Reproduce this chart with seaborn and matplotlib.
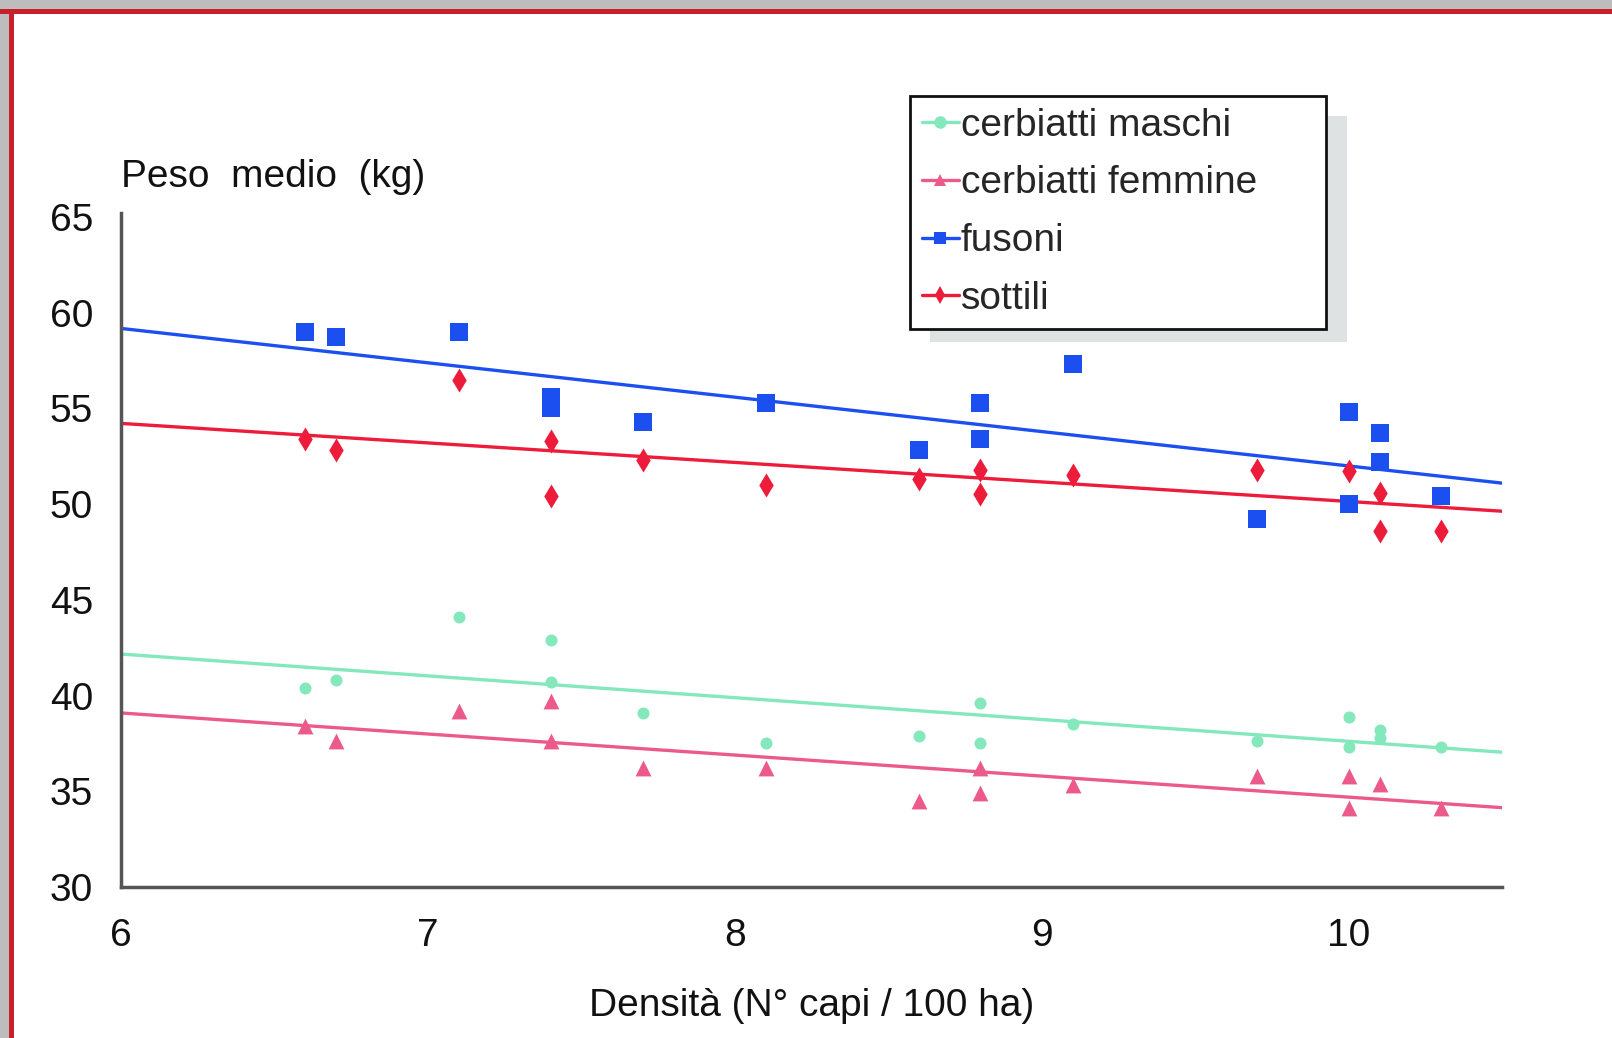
import matplotlib.pyplot as plt
import seaborn as sns
import numpy as np
from matplotlib.lines import Line2D
from matplotlib.patches import Rectangle

# Dati
densita_fusoni = [6.6, 6.7, 7.1, 7.4, 7.4, 7.7, 8.1, 8.6, 8.8, 8.8, 9.1, 9.7, 10.0, 10.0, 10.1, 10.1, 10.3]
peso_fusoni = [59.0, 58.7, 59.0, 55.6, 55.0, 54.3, 55.3, 52.8, 55.3, 53.4, 57.3, 49.2, 54.8, 50.0, 53.7, 52.2, 50.4]

densita_sottili = [6.6, 6.7, 7.1, 7.4, 7.4, 7.7, 8.1, 8.6, 8.8, 8.8, 9.1, 9.7, 10.0, 10.1, 10.1, 10.3]
peso_sottili = [53.4, 52.8, 56.5, 53.3, 50.4, 52.3, 51.0, 51.3, 51.8, 50.5, 51.5, 51.8, 51.7, 50.6, 48.6, 48.6]

densita_maschi = [6.6, 6.7, 7.1, 7.4, 7.4, 7.7, 8.1, 8.6, 8.8, 8.8, 9.1, 9.7, 10.0, 10.0, 10.1, 10.1, 10.3]
peso_maschi = [40.4, 40.8, 44.1, 42.9, 40.7, 39.1, 37.5, 37.9, 39.6, 37.5, 38.5, 37.6, 38.9, 37.3, 38.2, 37.8, 37.3]

densita_femmine = [6.6, 6.7, 7.1, 7.4, 7.4, 7.7, 8.1, 8.6, 8.8, 8.8, 9.1, 9.7, 10.0, 10.0, 10.1, 10.3]
peso_femmine = [38.4, 37.6, 39.2, 39.7, 37.6, 36.2, 36.2, 34.5, 36.2, 34.9, 35.3, 35.8, 35.8, 34.1, 35.4, 34.1]

x_ticks = [6, 7, 8, 9, 10]
y_ticks = [30, 35, 40, 45, 50, 55, 60, 65]

serie = [
    ("cerbiatti maschi", densita_maschi, peso_maschi, "#84e8bc", "o", 75),
    ("cerbiatti femmine", densita_femmine, peso_femmine, "#ec5a8c", "^", 130),
    ("fusoni", densita_fusoni, peso_fusoni, "#1c4ff0", "s", 150),
    ("sottili", densita_sottili, peso_sottili, "#ec1c3a", "d", 150),
]

sns.set_style("white")
plt.rcParams['font.family'] = ['Liberation Sans', 'DejaVu Sans']

fig = plt.figure(figsize=(16.12, 10.38), dpi=100)
ax = fig.add_axes([0.075, 0.1455, 0.857, 0.6493])
ax.set_xlim(6, 10.5)
ax.set_ylim(30, 65.2)

for nome, xs, ys, col, mk, sz in serie:
    sns.regplot(x=np.array(xs), y=np.array(ys), ax=ax, ci=None, truncate=False,
                marker=mk, color=col,
                scatter_kws=dict(s=sz, linewidths=0, alpha=1, zorder=3),
                line_kws=dict(lw=2.4, zorder=2))

ax.set_xticks(x_ticks)
ax.set_yticks(y_ticks)
ax.tick_params(axis='both', labelsize=28, length=0, colors='#111111')
ax.tick_params(axis='y', pad=20)
ax.tick_params(axis='x', pad=22)
for s in ['top', 'right']:
    ax.spines[s].set_visible(False)
for s in ['left', 'bottom']:
    ax.spines[s].set_color('#555555')
    ax.spines[s].set_linewidth(2.5)
ax.set_xlabel("Densità (N° capi / 100 ha)", fontsize=28, labelpad=25, color='#111111')
ax.set_ylabel("")

fig.text(121 / 1612, 1 - 177 / 1038, "Peso  medio  (kg)", fontsize=28,
         ha='left', va='center', color='#111111')

# legenda con ombra
handles = [Line2D([0], [0], color=col, marker=mk, markersize=9, lw=2.4, markeredgewidth=0)
           for nome, xs, ys, col, mk, sz in serie]
labels = [s[0] for s in serie]
fig.patches.append(Rectangle((930 / 1612, 1 - 342 / 1038), (1347 - 930) / 1612, (342 - 116) / 1038,
                             transform=fig.transFigure, facecolor='#dfe2e2', edgecolor='none', zorder=4))
leg = fig.legend(handles, labels, loc='upper left',
                 bbox_to_anchor=(910 / 1612, 1 - 323 / 1038, (1326 - 910) / 1612, (323 - 96) / 1038),
                 mode='expand', fontsize=28, frameon=True, fancybox=False, framealpha=1,
                 edgecolor='#111111', handlelength=0.95, handletextpad=0.05, borderpad=0.3,
                 labelspacing=0.56, borderaxespad=0)
leg.get_frame().set_linewidth(2)
leg.set_zorder(5)

# cornice rossa
fig.patches.append(Rectangle((0, 1 - 9 / 1038), 1, 9 / 1038, transform=fig.transFigure,
                             facecolor='#bdbdbd', edgecolor='none', zorder=0))
fig.patches.append(Rectangle((0, 0), 9 / 1612, 1, transform=fig.transFigure,
                             facecolor='#bdbdbd', edgecolor='none', zorder=0))
fig.patches.append(Rectangle((0, 1 - 14 / 1038), 1, 5 / 1038, transform=fig.transFigure,
                             facecolor='#c8202a', edgecolor='none', zorder=0))
fig.patches.append(Rectangle((9 / 1612, 0), 5 / 1612, 1 - 9 / 1038, transform=fig.transFigure,
                             facecolor='#c8202a', edgecolor='none', zorder=0))

fig.savefig("out.png", dpi=100)
